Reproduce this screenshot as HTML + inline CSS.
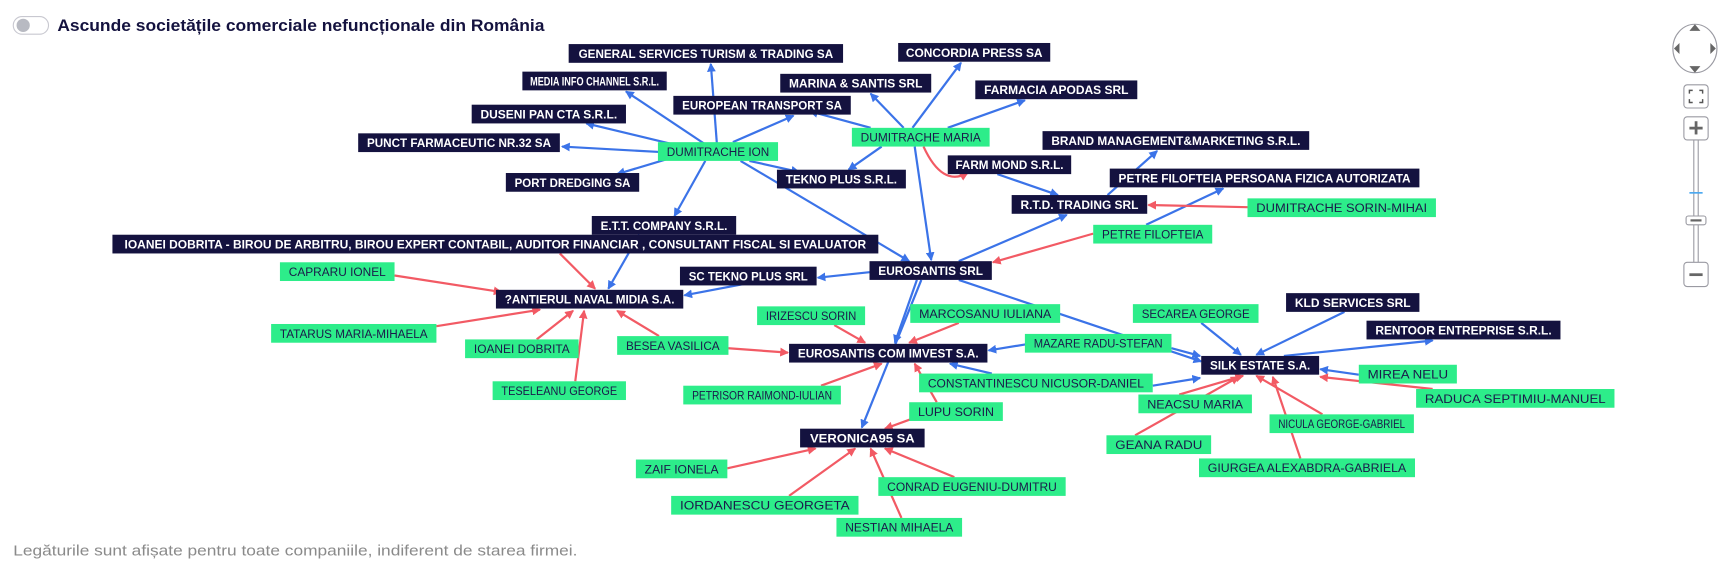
<!DOCTYPE html>
<html><head><meta charset="utf-8">
<style>
html,body{margin:0;padding:0;background:#fff;width:1728px;height:578px;overflow:hidden}
svg{display:block}
.d rect{fill:#14123f}
.d text{fill:#fff;font-family:"Liberation Sans Narrow","Liberation Sans",sans-serif;font-weight:bold;font-size:10.5px}
.g rect{fill:#2ded8a}
.g text{fill:#1a1a4a;font-family:"Liberation Sans Narrow","Liberation Sans",sans-serif;font-size:10.5px}
.b{stroke:#3b73e8;stroke-width:2;fill:none;marker-end:url(#ab)}
.r{stroke:#f25a64;stroke-width:2;fill:none;marker-end:url(#ar)}
</style></head><body>
<svg width="1728" height="578" viewBox="0 0 1568 524.5" xmlns="http://www.w3.org/2000/svg">
<defs>
<marker id="ab" markerWidth="8" markerHeight="8" refX="7" refY="4" orient="auto" markerUnits="userSpaceOnUse"><path d="M0,0 L8,4 L0,8 z" fill="#3b73e8"/></marker>
<marker id="ar" markerWidth="8" markerHeight="8" refX="7" refY="4" orient="auto" markerUnits="userSpaceOnUse"><path d="M0,0 L8,4 L0,8 z" fill="#f25a64"/></marker>
</defs>
<!-- header -->
<rect x="12" y="15" width="32" height="16" rx="8" fill="#fff" stroke="#c8c8d0"/>
<circle cx="21" cy="23" r="6" fill="#b8bac2"/>
<text x="52" y="28" font-family="Liberation Sans Narrow, Liberation Sans, sans-serif" font-weight="bold" font-size="15" fill="#14123f" textLength="442" lengthAdjust="spacingAndGlyphs">Ascunde societățile comerciale nefuncționale din România</text>
<text x="12" y="504" font-family="Liberation Sans, sans-serif" font-size="13.5" fill="#8a8a8a" textLength="512" lengthAdjust="spacingAndGlyphs">Legăturile sunt afișate pentru toate companiile, indiferent de starea firmei.</text>

<!-- edges -->
<g>
<line class="b" x1="651" y1="137" x2="645" y2="58"/>
<line class="b" x1="640" y1="131" x2="568" y2="83"/>
<line class="b" x1="615" y1="132" x2="532" y2="112"/>
<line class="b" x1="600" y1="138" x2="510" y2="133"/>
<line class="b" x1="610" y1="143" x2="560" y2="158"/>
<line class="b" x1="680" y1="146" x2="725" y2="156"/>
<line class="b" x1="640" y1="146" x2="612" y2="196"/>
<line class="b" x1="665" y1="129" x2="720" y2="105"/>
<line class="b" x1="672" y1="146" x2="825" y2="237"/>
<line class="b" x1="828" y1="116" x2="872" y2="57"/>
<line class="b" x1="820" y1="116" x2="790" y2="85"/>
<line class="b" x1="860" y1="116" x2="930" y2="91"/>
<line class="b" x1="790" y1="116" x2="735" y2="101"/>
<line class="b" x1="800" y1="133" x2="770" y2="154"/>
<line class="b" x1="830" y1="133" x2="845" y2="236"/>
<path class="r" d="M838,133 Q855,170 878,157"/>
<line class="b" x1="905" y1="158" x2="960" y2="177"/>
<line class="b" x1="870" y1="237" x2="968" y2="195"/>
<line class="b" x1="1005" y1="177" x2="1050" y2="137"/>
<line class="b" x1="1040" y1="204" x2="1110" y2="171"/>
<line class="r" x1="1132" y1="188" x2="1042" y2="186"/>
<line class="r" x1="992" y1="212" x2="901" y2="238"/>
<line class="b" x1="789" y1="247" x2="742" y2="252"/>
<line class="b" x1="700" y1="253" x2="621" y2="268"/>
<line class="b" x1="580" y1="213" x2="552" y2="262"/>
<line class="r" x1="508" y1="230" x2="540" y2="262"/>
<line class="b" x1="832" y1="254" x2="812" y2="311"/>
<line class="b" x1="836" y1="254" x2="782" y2="388"/>
<line class="b" x1="870" y1="254" x2="1090" y2="328"/>
<line class="r" x1="358" y1="250" x2="455" y2="265"/>
<line class="r" x1="396" y1="296" x2="490" y2="281"/>
<line class="r" x1="487" y1="308" x2="520" y2="282"/>
<line class="r" x1="522" y1="346" x2="530" y2="282"/>
<line class="r" x1="598" y1="305" x2="560" y2="282"/>
<line class="r" x1="757" y1="295" x2="785" y2="311"/>
<line class="r" x1="870" y1="293" x2="825" y2="311"/>
<line class="r" x1="661" y1="316" x2="715" y2="320"/>
<line class="b" x1="940" y1="311" x2="897" y2="318"/>
<line class="b" x1="900" y1="339" x2="862" y2="330"/>
<line class="r" x1="745" y1="350" x2="800" y2="330"/>
<line class="r" x1="850" y1="365" x2="830" y2="330"/>
<line class="r" x1="833" y1="378" x2="803" y2="389"/>
<line class="r" x1="660" y1="425" x2="740" y2="407"/>
<line class="r" x1="716" y1="450" x2="776" y2="407"/>
<line class="r" x1="818" y1="470" x2="790" y2="407"/>
<line class="r" x1="866" y1="433" x2="803" y2="407"/>
<line class="b" x1="1090" y1="293" x2="1126" y2="322"/>
<line class="b" x1="1220" y1="283" x2="1140" y2="322"/>
<line class="b" x1="1165" y1="323" x2="1300" y2="309"/>
<line class="b" x1="1063" y1="316" x2="1089" y2="323"/>
<line class="b" x1="1046" y1="350" x2="1089" y2="343"/>
<line class="b" x1="1233" y1="340" x2="1198" y2="335"/>
<line class="r" x1="1300" y1="353" x2="1198" y2="342"/>
<line class="r" x1="1070" y1="358" x2="1128" y2="341"/>
<line class="r" x1="1030" y1="395" x2="1124" y2="342"/>
<line class="r" x1="1200" y1="376" x2="1140" y2="341"/>
<line class="r" x1="1180" y1="416" x2="1155" y2="342"/>
</g>

<!-- dark nodes -->
<g class="d">
<rect x="516" y="40" width="249" height="17"/><text x="640.5" y="52.5" text-anchor="middle" textLength="231" lengthAdjust="spacingAndGlyphs">GENERAL SERVICES TURISM &amp; TRADING SA</text>
<rect x="815" y="39" width="138" height="17"/><text x="884" y="51.5" text-anchor="middle" textLength="124" lengthAdjust="spacingAndGlyphs">CONCORDIA PRESS SA</text>
<rect x="474" y="65" width="131" height="17"/><text x="539.5" y="77.5" text-anchor="middle" textLength="117" lengthAdjust="spacingAndGlyphs">MEDIA INFO CHANNEL S.R.L.</text>
<rect x="708" y="67" width="137" height="17"/><text x="776.5" y="79.5" text-anchor="middle" textLength="121" lengthAdjust="spacingAndGlyphs">MARINA &amp; SANTIS SRL</text>
<rect x="885" y="73" width="147" height="17"/><text x="958.5" y="85.5" text-anchor="middle" textLength="131" lengthAdjust="spacingAndGlyphs">FARMACIA APODAS SRL</text>
<rect x="611" y="87" width="161" height="17"/><text x="691.5" y="99.5" text-anchor="middle" textLength="145" lengthAdjust="spacingAndGlyphs">EUROPEAN TRANSPORT SA</text>
<rect x="428" y="95" width="140" height="17"/><text x="498" y="107.5" text-anchor="middle" textLength="124" lengthAdjust="spacingAndGlyphs">DUSENI PAN CTA S.R.L.</text>
<rect x="946" y="119" width="242" height="17"/><text x="1067" y="131.5" text-anchor="middle" textLength="226" lengthAdjust="spacingAndGlyphs">BRAND MANAGEMENT&amp;MARKETING S.R.L.</text>
<rect x="325" y="121" width="183" height="17"/><text x="416.5" y="133.5" text-anchor="middle" textLength="167" lengthAdjust="spacingAndGlyphs">PUNCT FARMACEUTIC NR.32 SA</text>
<rect x="860" y="141" width="112" height="17"/><text x="916" y="153.5" text-anchor="middle" textLength="98" lengthAdjust="spacingAndGlyphs">FARM MOND S.R.L.</text>
<rect x="705" y="154" width="117" height="17"/><text x="763.5" y="166.5" text-anchor="middle" textLength="101" lengthAdjust="spacingAndGlyphs">TEKNO PLUS S.R.L.</text>
<rect x="459" y="157" width="121" height="17"/><text x="519.5" y="169.5" text-anchor="middle" textLength="105" lengthAdjust="spacingAndGlyphs">PORT DREDGING SA</text>
<rect x="1007" y="153" width="281" height="17"/><text x="1147.5" y="165.5" text-anchor="middle" textLength="265" lengthAdjust="spacingAndGlyphs">PETRE FILOFTEIA PERSOANA FIZICA AUTORIZATA</text>
<rect x="918" y="177" width="123" height="17"/><text x="979.5" y="189.5" text-anchor="middle" textLength="107" lengthAdjust="spacingAndGlyphs">R.T.D. TRADING SRL</text>
<rect x="537" y="196" width="131" height="17"/><text x="602.5" y="208.5" text-anchor="middle" textLength="115" lengthAdjust="spacingAndGlyphs">E.T.T. COMPANY S.R.L.</text>
<rect x="102" y="213" width="695" height="17"/><text x="449.5" y="225.5" text-anchor="middle" textLength="673" lengthAdjust="spacingAndGlyphs">IOANEI  DOBRITA - BIROU DE ARBITRU,  BIROU EXPERT CONTABIL, AUDITOR FINANCIAR , CONSULTANT FISCAL SI  EVALUATOR</text>
<rect x="789" y="237" width="111" height="17"/><text x="844.5" y="249.5" text-anchor="middle" textLength="95" lengthAdjust="spacingAndGlyphs">EUROSANTIS SRL</text>
<rect x="617" y="242" width="124" height="17"/><text x="679" y="254.5" text-anchor="middle" textLength="108" lengthAdjust="spacingAndGlyphs">SC TEKNO PLUS SRL</text>
<rect x="450" y="263" width="170" height="17"/><text x="535" y="275.5" text-anchor="middle" textLength="154" lengthAdjust="spacingAndGlyphs">?ANTIERUL NAVAL MIDIA S.A.</text>
<rect x="1167" y="266" width="121" height="17"/><text x="1227.5" y="278.5" text-anchor="middle" textLength="105" lengthAdjust="spacingAndGlyphs">KLD SERVICES SRL</text>
<rect x="1240" y="291" width="176" height="17"/><text x="1328" y="303.5" text-anchor="middle" textLength="160" lengthAdjust="spacingAndGlyphs">RENTOOR ENTREPRISE S.R.L.</text>
<rect x="716" y="312" width="180" height="17"/><text x="806" y="324.5" text-anchor="middle" textLength="164" lengthAdjust="spacingAndGlyphs">EUROSANTIS COM IMVEST S.A.</text>
<rect x="1090" y="323" width="107" height="17"/><text x="1143.5" y="335.5" text-anchor="middle" textLength="91" lengthAdjust="spacingAndGlyphs">SILK ESTATE S.A.</text>
<rect x="726" y="389" width="113" height="17"/><text x="782.5" y="401.5" text-anchor="middle" textLength="95" lengthAdjust="spacingAndGlyphs">VERONICA95 SA</text>
</g>

<!-- green nodes -->
<g class="g">
<rect x="597" y="129" width="109" height="17"/><text x="651.5" y="141.5" text-anchor="middle" textLength="93" lengthAdjust="spacingAndGlyphs">DUMITRACHE ION</text>
<rect x="773" y="116" width="125" height="17"/><text x="835.5" y="128.5" text-anchor="middle" textLength="109" lengthAdjust="spacingAndGlyphs">DUMITRACHE MARIA</text>
<rect x="1132" y="180" width="171" height="17"/><text x="1217.5" y="192.5" text-anchor="middle" textLength="155" lengthAdjust="spacingAndGlyphs">DUMITRACHE SORIN-MIHAI</text>
<rect x="992" y="204" width="108" height="17"/><text x="1046" y="216.5" text-anchor="middle" textLength="92" lengthAdjust="spacingAndGlyphs">PETRE FILOFTEIA</text>
<rect x="254" y="238" width="104" height="17"/><text x="306" y="250.5" text-anchor="middle" textLength="88" lengthAdjust="spacingAndGlyphs">CAPRARU IONEL</text>
<rect x="246" y="294" width="150" height="17"/><text x="321" y="306.5" text-anchor="middle" textLength="134" lengthAdjust="spacingAndGlyphs">TATARUS MARIA-MIHAELA</text>
<rect x="422" y="308" width="103" height="17"/><text x="473.5" y="320.5" text-anchor="middle" textLength="87" lengthAdjust="spacingAndGlyphs">IOANEI DOBRITA</text>
<rect x="560" y="305" width="101" height="17"/><text x="610.5" y="317.5" text-anchor="middle" textLength="85" lengthAdjust="spacingAndGlyphs">BESEA VASILICA</text>
<rect x="447" y="346" width="121" height="17"/><text x="507.5" y="358.5" text-anchor="middle" textLength="105" lengthAdjust="spacingAndGlyphs">TESELEANU GEORGE</text>
<rect x="687" y="278" width="98" height="17"/><text x="736" y="290.5" text-anchor="middle" textLength="82" lengthAdjust="spacingAndGlyphs">IRIZESCU SORIN</text>
<rect x="826" y="276" width="136" height="17"/><text x="894" y="288.5" text-anchor="middle" textLength="120" lengthAdjust="spacingAndGlyphs">MARCOSANU IULIANA</text>
<rect x="1028" y="276" width="114" height="17"/><text x="1085" y="288.5" text-anchor="middle" textLength="98" lengthAdjust="spacingAndGlyphs">SECAREA GEORGE</text>
<rect x="930" y="303" width="133" height="17"/><text x="996.5" y="315.5" text-anchor="middle" textLength="117" lengthAdjust="spacingAndGlyphs">MAZARE RADU-STEFAN</text>
<rect x="834" y="339" width="212" height="17"/><text x="940" y="351.5" text-anchor="middle" textLength="196" lengthAdjust="spacingAndGlyphs">CONSTANTINESCU NICUSOR-DANIEL</text>
<rect x="620" y="350" width="143" height="17"/><text x="691.5" y="362.5" text-anchor="middle" textLength="127" lengthAdjust="spacingAndGlyphs">PETRISOR RAIMOND-IULIAN</text>
<rect x="825" y="365" width="85" height="17"/><text x="867.5" y="377.5" text-anchor="middle" textLength="69" lengthAdjust="spacingAndGlyphs">LUPU SORIN</text>
<rect x="1233" y="331" width="89" height="17"/><text x="1277.5" y="343.5" text-anchor="middle" textLength="73" lengthAdjust="spacingAndGlyphs">MIREA NELU</text>
<rect x="1285" y="353" width="180" height="17"/><text x="1375" y="365.5" text-anchor="middle" textLength="164" lengthAdjust="spacingAndGlyphs">RADUCA SEPTIMIU-MANUEL</text>
<rect x="1033" y="358" width="103" height="17"/><text x="1084.5" y="370.5" text-anchor="middle" textLength="87" lengthAdjust="spacingAndGlyphs">NEACSU MARIA</text>
<rect x="1152" y="376" width="131" height="17"/><text x="1217.5" y="388.5" text-anchor="middle" textLength="115" lengthAdjust="spacingAndGlyphs">NICULA GEORGE-GABRIEL</text>
<rect x="1004" y="395" width="95" height="17"/><text x="1051.5" y="407.5" text-anchor="middle" textLength="79" lengthAdjust="spacingAndGlyphs">GEANA RADU</text>
<rect x="1088" y="416" width="196" height="17"/><text x="1186" y="428.5" text-anchor="middle" textLength="180" lengthAdjust="spacingAndGlyphs">GIURGEA ALEXABDRA-GABRIELA</text>
<rect x="577" y="417" width="83" height="17"/><text x="618.5" y="429.5" text-anchor="middle" textLength="67" lengthAdjust="spacingAndGlyphs">ZAIF IONELA</text>
<rect x="797" y="433" width="170" height="17"/><text x="882" y="445.5" text-anchor="middle" textLength="154" lengthAdjust="spacingAndGlyphs">CONRAD EUGENIU-DUMITRU</text>
<rect x="609" y="450" width="170" height="17"/><text x="694" y="462.5" text-anchor="middle" textLength="154" lengthAdjust="spacingAndGlyphs">IORDANESCU GEORGETA</text>
<rect x="759" y="470" width="114" height="17"/><text x="816" y="482.5" text-anchor="middle" textLength="98" lengthAdjust="spacingAndGlyphs">NESTIAN MIHAELA</text>
</g>

<!-- controls -->
<g stroke="#9a9aa2" fill="#fff">
<ellipse cx="1538" cy="44" rx="20" ry="22"/>
<rect x="1528" y="77" width="22" height="21" rx="3"/>
<rect x="1528" y="106" width="22" height="21" rx="3"/>
<line x1="1537" y1="127" x2="1537" y2="238"/>
<line x1="1541" y1="127" x2="1541" y2="238"/>
<rect x="1530" y="196" width="18" height="8" rx="2"/>
<rect x="1528" y="238" width="22" height="22" rx="3"/>
</g>
<g fill="#666">
<path d="M1533,28 L1538,22 L1543,28z"/><path d="M1533,60 L1538,66 L1543,60z"/>
<path d="M1524,39 L1519,44 L1524,49z"/><path d="M1552,39 L1557,44 L1552,49z"/>
<rect x="1533" y="115" width="12" height="2.5"/><rect x="1537.8" y="110" width="2.5" height="12"/>
<rect x="1533" y="248" width="12" height="2.5"/>
<rect x="1534" y="199" width="10" height="2"/>
</g>
<line x1="1533" y1="175" x2="1545" y2="175" stroke="#4aa8f0" stroke-width="1.5"/>
<path d="M1533,85 v-3 h3 M1542,82 h3 v3 M1545,90 v3 h-3 M1536,93 h-3 v-3" stroke="#555" stroke-width="1.3" fill="none"/>
</svg>
</body></html>
